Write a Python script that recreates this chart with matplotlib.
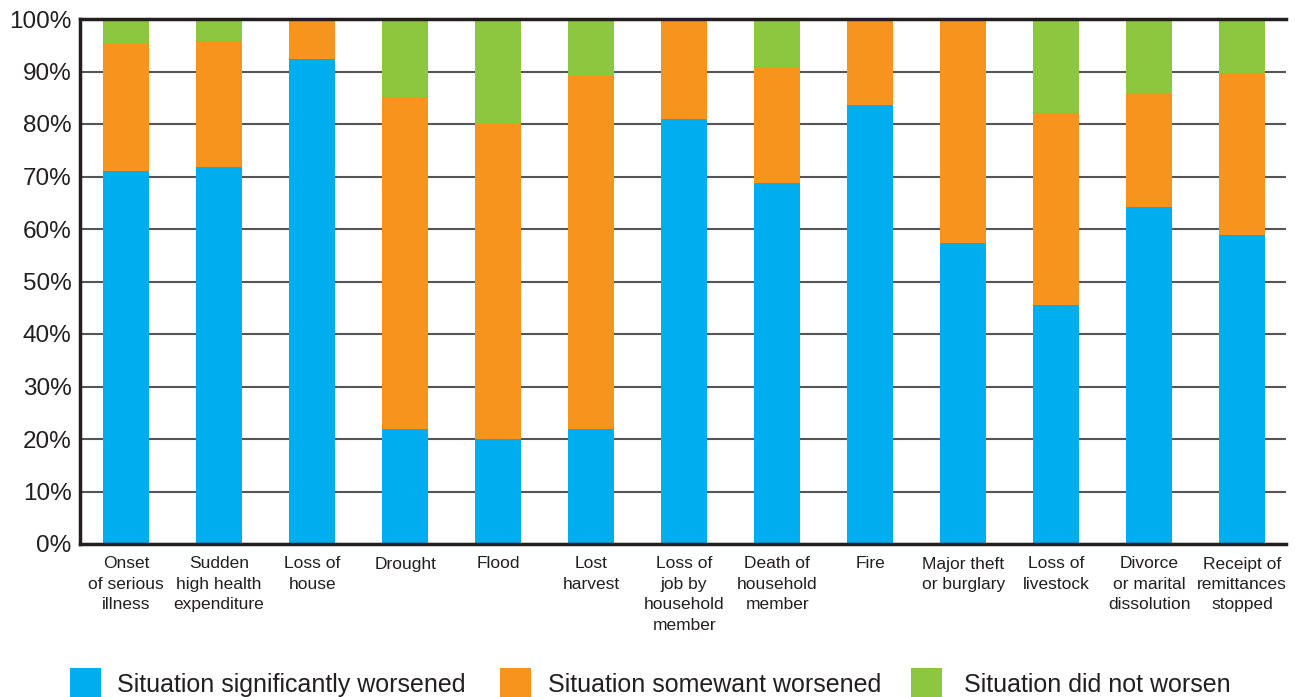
import matplotlib.pyplot as plt
import numpy as np
from matplotlib.patches import Rectangle

plt.rcParams['font.family'] = ['Liberation Sans', 'DejaVu Sans']

categories = ['Onset\nof serious\nillness', 'Sudden\nhigh health\nexpenditure', 'Loss of\nhouse',
              'Drought', 'Flood', 'Lost\nharvest', 'Loss of\njob by\nhousehold\nmember',
              'Death of\nhousehold\nmember', 'Fire', 'Major theft\nor burglary', 'Loss of\nlivestock',
              'Divorce\nor marital\ndissolution', 'Receipt of\nremittances\nstopped']
significantly = [71.0, 71.8, 92.4, 21.9, 20.0, 21.9, 81.0, 68.8, 83.6, 57.3, 45.5, 64.2, 58.9]
somewhat = [24.4, 24.0, 7.6, 63.2, 60.2, 67.4, 19.0, 22.1, 16.4, 42.7, 36.6, 21.7, 30.8]
not_worse = [4.6, 4.2, 0.0, 14.9, 19.8, 10.7, 0.0, 9.1, 0.0, 0.0, 17.9, 14.1, 10.3]
series_names = ['Situation significantly worsened', 'Situation somewant worsened', 'Situation did not worsen']
colors = ['#00AEEF', '#F7941E', '#8DC63F']

W, H = 1295, 697
fig = plt.figure(figsize=(W / 100, H / 100), dpi=100)
ax = fig.add_axes([80 / W, 153 / H, 1206 / W, 525 / H])

x = np.arange(len(categories))
sig = np.array(significantly)
som = np.array(somewhat)
nw = np.array(not_worse)
w = 0.495
ax.bar(x, sig, w, color=colors[0], zorder=2)
ax.bar(x, som, w, bottom=sig, color=colors[1], zorder=2)
ax.bar(x, nw, w, bottom=sig + som, color=colors[2], zorder=2)

ax.set_xlim(-0.495, 12.47)
ax.set_ylim(0, 100)
ax.set_yticks(np.arange(0, 101, 10))
ax.set_yticklabels([f'{v}%' for v in range(0, 101, 10)], fontsize=17.5, color='#231f20')
ax.set_xticks(x)
ax.set_xticklabels(categories, fontsize=12.5, color='#231f20', linespacing=1.45)
ax.tick_params(axis='both', length=0)
ax.tick_params(axis='y', pad=6)
ax.tick_params(axis='x', pad=9)

ax.yaxis.grid(True, color='#555555', linewidth=1.5, zorder=1)
ax.set_axisbelow(True)
ax.spines['right'].set_visible(False)
for s in ['top', 'left', 'bottom']:
    ax.spines[s].set_linewidth(2.5)
    ax.spines[s].set_color('#231f20')

# legend drawn by hand to match the spacing of the original
box_x = [70, 500, 911]
text_x = [117, 548, 964]
for bx, tx, c, name in zip(box_x, text_x, colors, series_names):
    fig.add_artist(Rectangle((bx / W, 0), 31 / W, 29 / H, transform=fig.transFigure,
                             facecolor=c, edgecolor='none'))
    fig.text(tx / W, 5 / H, name, fontsize=18, color='#231f20', va='baseline', ha='left')

fig.savefig('out.png', dpi=100)
